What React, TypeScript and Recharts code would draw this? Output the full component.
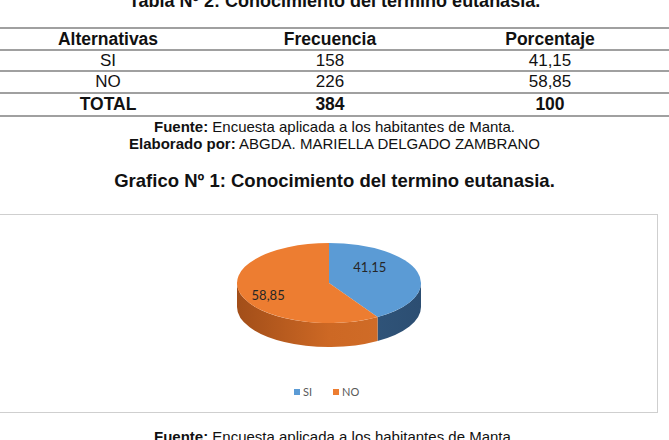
import React from 'react';
import { PieChart, Pie, Cell, Legend } from 'recharts';

// Survey results: knowledge of the term "eutanasia"
const categories = ['SI', 'NO'];
const frecuencias = [158, 226];
const porcentajes = [41.15, 58.85];
const totalFrecuencia = 384;
const totalPorcentaje = 100;

const TOP_COLORS = ['#5b9bd5', '#ed7d31'];
const SIDE_STOPS = [
  ['#26486b', '#33597f', '#2c4e72'],
  ['#a24e19', '#cd6824', '#d26e29'],
];

const pieData = categories.map((name, i) => ({ name, value: porcentajes[i] }));

const fmt = (v: number, d = 2) => v.toFixed(d).replace('.', ',');

const TILT = 0.435; // vertical squash of the pie top face
const DEPTH = 24; // thickness of the pie side wall
const RAD = Math.PI / 180;

const pt = (cx: number, cy: number, rx: number, ry: number, a: number) => [
  cx + rx * Math.cos(a * RAD),
  cy - ry * Math.sin(a * RAD),
];

// Draws one slice of a tilted pie (side wall, top face and value label)
const renderSlice3D = (props: any) => {
  const { cx, cy, outerRadius, startAngle, endAngle, midAngle, index, value } = props;
  const rx = outerRadius;
  const ry = outerRadius * TILT;
  const [x1, y1] = pt(cx, cy, rx, ry, startAngle);
  const [x2, y2] = pt(cx, cy, rx, ry, endAngle);
  const large = Math.abs(startAngle - endAngle) > 180 ? 1 : 0;
  const top = `M${cx},${cy} L${x1},${y1} A${rx},${ry} 0 ${large} 1 ${x2},${y2} Z`;

  // only the front half of the rim (0 .. -180 deg) shows a side wall
  const a1 = Math.min(startAngle, 0);
  const a2 = Math.max(endAngle, -180);
  let side: string | null = null;
  if (a1 > a2) {
    const [sx1, sy1] = pt(cx, cy, rx, ry, a1);
    const [sx2, sy2] = pt(cx, cy, rx, ry, a2);
    side = `M${sx1},${sy1} A${rx},${ry} 0 0 1 ${sx2},${sy2} L${sx2},${sy2 + DEPTH} A${rx},${ry} 0 0 0 ${sx1},${sy1 + DEPTH} Z`;
  }
  const gid = `pie-side-${index}`;
  const stops = SIDE_STOPS[index % SIDE_STOPS.length];

  const lx = cx - 10 + 0.575 * rx * Math.cos(midAngle * RAD);
  const ly = cy - 2 - 1.28 * ry * Math.sin(midAngle * RAD);

  return (
    <g key={`slice-${index}`}>
      <defs>
        <linearGradient id={gid} gradientUnits="userSpaceOnUse" x1={cx - rx} y1={0} x2={cx + rx} y2={0}>
          <stop offset="0" stopColor={stops[0]} />
          <stop offset="0.5" stopColor={stops[1]} />
          <stop offset="1" stopColor={stops[2]} />
        </linearGradient>
      </defs>
      {side && <path d={side} fill={`url(#${gid})`} stroke="none" />}
      <path d={top} fill={TOP_COLORS[index % TOP_COLORS.length]} stroke="none" />
      <text
        x={lx}
        y={ly}
        textAnchor="middle"
        dominantBaseline="central"
        fontFamily="Lato, 'Open Sans', sans-serif"
        fontSize={13}
        fill="#262626"
      >
        {fmt(value)}
      </text>
    </g>
  );
};

// Legend items kept in the same order as the data
const renderLegend = (props: any) => {
  const payload = [...(props.payload || [])].sort(
    (a: any, b: any) => categories.indexOf(a.value) - categories.indexOf(b.value)
  );
  return (
    <div style={{ display: 'flex', alignItems: 'center', fontFamily: "Lato, 'Open Sans', sans-serif", fontSize: 11, color: '#595959', lineHeight: '12px' }}>
      {payload.map((p: any) => {
        const i = categories.indexOf(p.value);
        return (
          <span key={p.value} style={{ display: 'flex', alignItems: 'center', marginRight: 21 }}>
            <span style={{ display: 'inline-block', width: 6, height: 6, background: TOP_COLORS[i % TOP_COLORS.length], marginRight: 3 }} />
            {p.value}
          </span>
        );
      })}
    </div>
  );
};

const SANS = "'Liberation Sans', Arial, sans-serif";

const colCenters = [108, 330, 550];

const Cellx = ({ x, top, bold, children }: any) => (
  <div
    style={{
      position: 'absolute',
      left: x - 150,
      width: 300,
      top,
      height: 20,
      lineHeight: '20px',
      textAlign: 'center',
      fontSize: bold ? 17.5 : 17,
      fontWeight: bold ? 700 : 400,
      whiteSpace: 'nowrap',
    }}
  >
    {children}
  </div>
);

const Rule = ({ y }: { y: number }) => (
  <div style={{ position: 'absolute', left: 0, width: 669, top: y, height: 2, background: '#a0a0a0' }} />
);

const Line = ({ top, size, children }: any) => (
  <div
    style={{
      position: 'absolute',
      left: 0,
      width: 669,
      top,
      height: size + 3,
      lineHeight: `${size + 3}px`,
      textAlign: 'center',
      fontSize: size,
      whiteSpace: 'nowrap',
    }}
  >
    {children}
  </div>
);

export default function App() {
  const rows = categories.map((c, i) => [c, String(frecuencias[i]), fmt(porcentajes[i])]);
  const rowTops = [50.5, 72];
  return (
    <div
      style={{
        position: 'absolute',
        left: 0,
        top: 0,
        width: 669,
        height: 440,
        overflow: 'hidden',
        background: '#ffffff',
        fontFamily: SANS,
        color: '#111111',
      }}
    >
      <Line top={-9} size={18}>
        <b>Tabla Nº 2: Conocimiento del termino eutanasia.</b>
      </Line>

      <Rule y={27} />
      <Rule y={48.5} />
      <Rule y={70} />
      <Rule y={91.5} />
      <Rule y={114.5} />

      {['Alternativas', 'Frecuencia', 'Porcentaje'].map((h, i) => (
        <Cellx key={h} x={colCenters[i]} top={29} bold>
          {h}
        </Cellx>
      ))}
      {rows.map((r, ri) =>
        r.map((v, ci) => (
          <Cellx key={`${ri}-${ci}`} x={colCenters[ci]} top={rowTops[ri]}>
            {v}
          </Cellx>
        ))
      )}
      {['TOTAL', String(totalFrecuencia), String(totalPorcentaje)].map((v, i) => (
        <Cellx key={`t-${i}`} x={colCenters[i]} top={94} bold>
          {v}
        </Cellx>
      ))}

      <Line top={117.5} size={15}>
        <b>Fuente:</b> Encuesta aplicada a los habitantes de Manta.
      </Line>
      <Line top={134.5} size={15}>
        <b>Elaborado por:</b> ABGDA. MARIELLA DELGADO ZAMBRANO
      </Line>

      <Line top={169.5} size={18.5}>
        <b>Grafico Nº 1: Conocimiento del termino eutanasia.</b>
      </Line>

      <div
        style={{
          position: 'absolute',
          left: -2,
          top: 214,
          width: 660,
          height: 199,
          border: '1.5px solid #cfcfcf',
          boxSizing: 'border-box',
        }}
      />
      <div style={{ position: 'absolute', left: 0, top: 214 }}>
        <PieChart width={659} height={200} margin={{ top: 0, right: 0, bottom: 0, left: 0 }}>
          <Pie
            data={pieData}
            dataKey="value"
            nameKey="name"
            cx={329}
            cy={69}
            outerRadius={92}
            startAngle={90}
            endAngle={-270}
            stroke="none"
            fillOpacity={0}
            label={renderSlice3D}
            labelLine={false}
            isAnimationActive={false}
          >
            {pieData.map((d, i) => (
              <Cell key={d.name} fill={TOP_COLORS[i]} />
            ))}
          </Pie>
          <Legend
            content={renderLegend}
            wrapperStyle={{ position: 'absolute', left: 294, top: 172, width: 120 }}
          />
        </PieChart>
      </div>

      <Line top={428} size={15}>
        <b>Fuente:</b> Encuesta aplicada a los habitantes de Manta.
      </Line>
    </div>
  );
}
